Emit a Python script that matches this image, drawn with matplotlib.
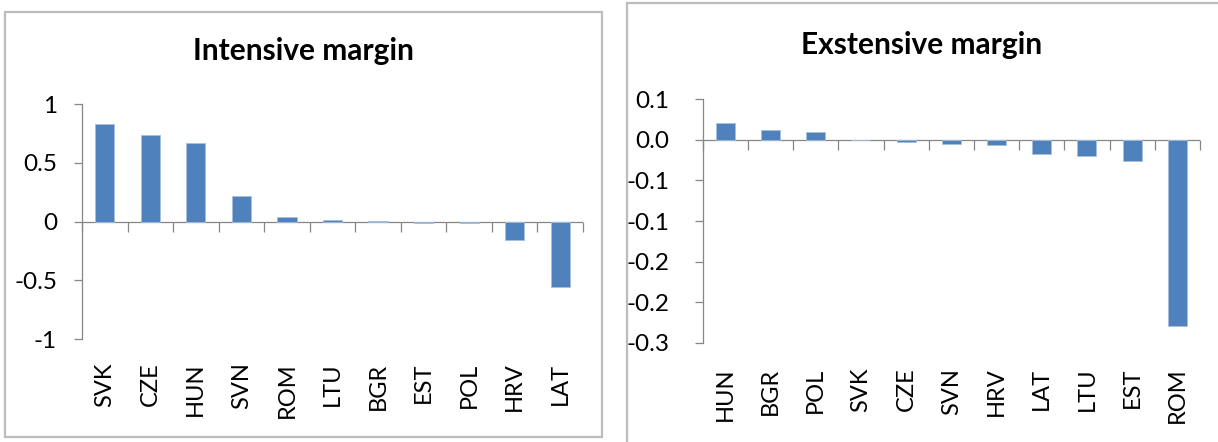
import matplotlib.pyplot as plt
from matplotlib.lines import Line2D
from matplotlib.patches import Rectangle
import matplotlib.ticker as mticker

plt.rcParams['font.family'] = ['Lato', 'DejaVu Sans']

# intensive margin, sorted high to low
int_countries = ["SVK", "CZE", "HUN", "SVN", "ROM", "LTU", "BGR", "EST", "POL", "HRV", "LAT"]
int_values = [0.831, 0.741, 0.673, 0.215, 0.039, 0.017, 0.003, -0.015, -0.015, -0.157, -0.557]

# extensive margin, sorted high to low
ext_countries = ["HUN", "BGR", "POL", "SVK", "CZE", "SVN", "HRV", "LAT", "LTU", "EST", "ROM"]
ext_values = [0.0206, 0.012, 0.0103, -0.0005, -0.0032, -0.0049, -0.0065, -0.0172, -0.0205, -0.0262, -0.2298]

int_ticks = [-1, -0.5, 0, 0.5, 1]
ext_ticks = [-0.25, -0.2, -0.15, -0.1, -0.05, 0.0, 0.05]

BLUE = "#4F81BD"
GRAY = "#868686"
W, H = 1218, 442

fig = plt.figure(figsize=(W / 100, H / 100), dpi=100)


def fx(px):
    return px / W


def fy(py):
    return 1 - py / H


def excel_bars(ax, cats, vals, ylim, yticks, fmt, pad, xpad):
    n = len(cats)
    x = list(range(n))
    ax.bar(x, vals, width=0.42, color=BLUE, edgecolor="#A7BFDE", linewidth=0.6, zorder=3)
    ax.set_xlim(-0.5, n - 0.5)
    ax.set_ylim(*ylim)
    for s in ["top", "right", "bottom"]:
        ax.spines[s].set_visible(False)
    ax.spines["left"].set_color(GRAY)
    ax.spines["left"].set_linewidth(0.9)
    ax.set_yticks(yticks)
    ax.yaxis.set_major_formatter(mticker.FuncFormatter(fmt))
    ax.tick_params(axis="y", direction="out", length=6, width=0.9, color=GRAY,
                   labelsize=17.5, pad=pad)
    # category labels sit at the bottom of the plot area
    ax.set_xticks(x)
    ax.set_xticklabels(cats, rotation=90, fontsize=17)
    ax.tick_params(axis="x", length=0, pad=xpad)
    # horizontal axis line at zero, tick marks hang down between categories
    ax.axhline(0, color=GRAY, linewidth=0.9, zorder=2)
    bounds = [i - 0.5 for i in range(n + 1)]
    ax.plot(bounds, [0] * len(bounds), linestyle="none", marker=3,
            markersize=7, markeredgewidth=0.9, color=GRAY, clip_on=False, zorder=2)


def fmt_int(v, pos):
    return "%g" % v if v != 0 else "0"


def fmt_ext(v, pos):
    # one decimal, rounding half away from zero
    r = int(abs(v) * 10 + 0.5 + 1e-9) / 10.0
    s = "%.1f" % r
    return ("-" + s) if v < -1e-12 else s


# left panel frame
fig.patches.append(Rectangle((fx(5), fy(437)), fx(602) - fx(5), fy(12) - fy(437),
                             transform=fig.transFigure, fill=False,
                             edgecolor="#BDBDBD", linewidth=1.6))
# right panel frame (runs off the page at right and bottom)
fig.lines.append(Line2D([fx(627), fx(627)], [fy(3), 0], transform=fig.transFigure,
                        color="#BDBDBD", linewidth=1.6))
fig.lines.append(Line2D([fx(627), 1], [fy(3), fy(3)], transform=fig.transFigure,
                        color="#BDBDBD", linewidth=1.6))

ax1 = fig.add_axes([fx(82), fy(339), fx(583) - fx(82), fy(104.3) - fy(339)])
excel_bars(ax1, int_countries, int_values, (-1, 1), int_ticks, fmt_int, 12, 17)

ax2 = fig.add_axes([fx(702.7), fy(342.7), fx(1200) - fx(702.7), fy(99.3) - fy(342.7)])
excel_bars(ax2, ext_countries, ext_values, (-0.25, 0.05), ext_ticks, fmt_ext, 18, 18)

fig.text(fx(303.5), fy(51), "Intensive margin", ha="center", va="center",
         fontsize=21.5, fontweight="bold")
fig.text(fx(922), fy(45), "Exstensive margin", ha="center", va="center",
         fontsize=21.5, fontweight="bold")

fig.savefig("out.png", dpi=100)
